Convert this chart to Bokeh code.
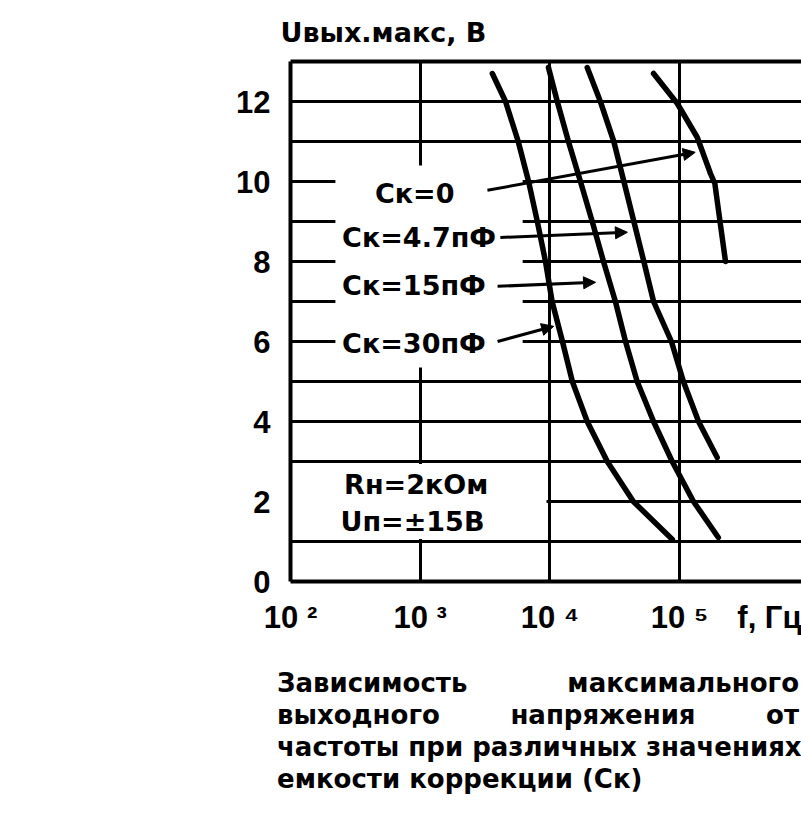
from bokeh.plotting import figure
from bokeh.models import Range1d, FixedTicker, LogAxis, Label, Arrow, NormalHead, Div
from bokeh.layouts import column
from bokeh.embed import file_html
from bokeh.resources import INLINE

# ---- data (f in Hz, U in V) ----
f_30pf = [3600, 4550, 5700, 6850, 8000, 9250, 10400, 12500, 14900, 19400, 27700, 44000, 88000]
u_30pf = [12.7, 12.0, 11.0, 10.0, 9.0, 8.0, 7.0, 6.0, 5.0, 4.0, 3.0, 2.0, 1.05]

f_15pf = [9750, 11400, 13900, 17200, 21200, 25900, 32000, 38300, 47100, 63000, 87700, 128000, 199000]
u_15pf = [12.85, 12.0, 11.0, 10.0, 9.0, 8.0, 7.0, 6.0, 5.0, 4.0, 3.0, 2.0, 1.1]

f_4p7pf = [19400, 24500, 31100, 37200, 44400, 53000, 63000, 86500, 107000, 140000, 195000]
u_4p7pf = [12.85, 12.0, 11.0, 10.0, 9.0, 8.0, 7.0, 6.0, 5.0, 4.0, 3.1]

f_0pf = [63000, 96000, 137000, 173000, 187000, 206000, 226000]
u_0pf = [12.7, 11.95, 11.1, 10.2, 9.95, 8.95, 8.0]

x_ticks = [1e2, 1e3, 1e4, 1e5, 7.83e5]
x_tick_labels = ["10 ²", "10 ³", "10 ⁴", "10 ⁵", "f, Гц"]
y_ticks = [0, 2, 4, 6, 8, 10, 12]
y_grid = list(range(1, 13))
x_grid = [1e3, 1e4, 1e5]

series_labels = ["Ск=0", "Ск=4.7пФ", "Ск=15пФ", "Ск=30пФ"]
y_title = "Uвых.макс, В"
cond_labels = ["Rн=2кОм", "Uп=±15В"]
caption_lines = [
    "Зависимость максимального",
    "выходного напряжения от",
    "частоты при различных значениях",
    "емкости коррекции (Ск)",
]

NUM_FONT = "Liberation Sans"
TXT_FONT = "DejaVu Sans"

p = figure(width=801, height=650, x_axis_type="log",
           x_range=Range1d(100, 8.71e5), y_range=Range1d(0, 13),
           output_backend="svg", toolbar_location=None,
           min_border_left=290, min_border_right=0,
           min_border_top=61, min_border_bottom=69)
p.outline_line_color = None
p.background_fill_color = "white"
p.border_fill_color = "white"

# title (y axis name, above the frame at the left)
p.title.text = y_title
p.title.align = "left"
p.title.offset = -10
p.title.standoff = 28
p.title.text_font = TXT_FONT
p.title.text_font_style = "bold"
p.title.text_font_size = "27px"
p.title.text_color = "black"

# grid
p.ygrid.ticker = FixedTicker(ticks=y_grid)
p.xgrid.ticker = FixedTicker(ticks=x_grid)
for g in (p.xgrid, p.ygrid):
    g.grid_line_color = "black"
    g.grid_line_width = 3
    g.grid_line_alpha = 1.0

# axes
p.xaxis.ticker = FixedTicker(ticks=x_ticks)
p.xaxis.major_label_overrides = {t: s for t, s in zip(x_ticks, x_tick_labels)}
p.yaxis.ticker = FixedTicker(ticks=y_ticks)
for ax in (p.xaxis, p.yaxis):
    ax.axis_line_width = 4
    ax.axis_line_color = "black"
    ax.major_tick_line_color = None
    ax.minor_tick_line_color = None
    ax.major_tick_out = 0
    ax.major_tick_in = 0
    ax.major_label_text_font = NUM_FONT
    ax.major_label_text_font_style = "bold"
    ax.major_label_text_font_size = "31px"
    ax.major_label_text_color = "black"
p.xaxis.major_label_standoff = 18
p.yaxis.major_label_standoff = 20

top = LogAxis(ticker=FixedTicker(ticks=[]), axis_line_width=4, axis_line_color="black",
              major_tick_line_color=None, minor_tick_line_color=None,
              major_tick_out=0, major_tick_in=0, major_label_standoff=0,
              major_label_text_font_size="0px")
p.add_layout(top, "above")

# white areas where the printed grid is interrupted around the labels
p.quad(left=[222, 100], right=[6166, 9420], bottom=[5.35, 1.06], top=[10.4, 2.94],
       fill_color="white", line_color=None)

# curves
for fx, uy in ((f_30pf, u_30pf), (f_15pf, u_15pf), (f_4p7pf, u_4p7pf), (f_0pf, u_0pf)):
    p.line(fx, uy, line_width=5.5, line_color="black", line_cap="round", line_join="round")

def lab(x, y, text, size="27px"):
    p.add_layout(Label(x=x, y=y, text=text, text_font=TXT_FONT, text_font_style="bold",
                       text_font_size=size, text_color="black",
                       text_baseline="middle", text_align="left"))

# series labels and arrows
lab(448, 9.7, series_labels[0])
lab(250, 8.61, series_labels[1])
lab(250, 7.4, series_labels[2])
lab(250, 5.95, series_labels[3])

arrows = [
    (3300, 9.78, 132000, 10.73),
    (4150, 8.6, 39600, 8.73),
    (3950, 7.38, 22500, 7.48),
    (3950, 6.0, 10700, 6.38),
]
for xs, ys, xe, ye in arrows:
    p.add_layout(Arrow(end=NormalHead(size=12, fill_color="black", line_color="black"),
                       x_start=xs, y_start=ys, x_end=xe, y_end=ye,
                       line_width=3, line_color="black"))

lab(259, 2.43, cond_labels[0])
lab(243, 1.5, cond_labels[1])

# caption under the chart (justified paragraph, like the printed page)
line_divs = []
for i, t in enumerate(caption_lines):
    last = i == len(caption_lines) - 1
    align = "text-align:left;" if last else "text-align:justify;text-align-last:justify;"
    line_divs.append(f'<div style="white-space:nowrap;{align}">{t}</div>')
cap_html = (
    '<div style="width:801px;height:169px;overflow:hidden;box-sizing:border-box;'
    'padding:17px 0 0 277px;margin:0;background:white;color:black;'
    f"font-family:'{TXT_FONT}';font-weight:bold;font-size:26px;line-height:32px;\">"
    '<div style="width:522px;">' + "".join(line_divs) + "</div></div>"
)
cap = Div(text=cap_html, width=801, height=169, margin=(0, 0, 0, 0))

open("out.html", "w").write(file_html(column(p, cap, spacing=0), INLINE))
